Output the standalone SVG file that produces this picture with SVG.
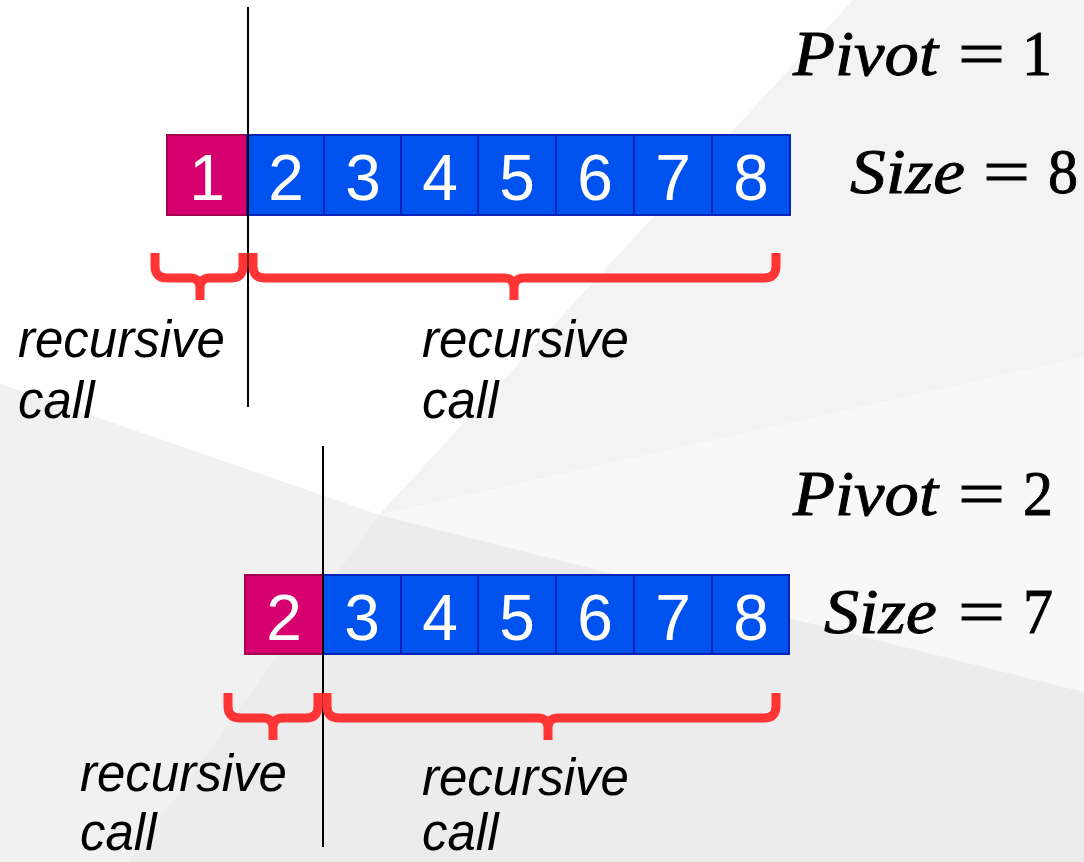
<svg xmlns="http://www.w3.org/2000/svg" width="1084" height="862" viewBox="0 0 1084 862">
<style>
.pv{fill:#d6006e;stroke:#a3004f;stroke-width:2}
.bl{fill:#0052ef;stroke:#0a24b8;stroke-width:2}
.dg{font-family:"Liberation Sans",Arial,sans-serif;font-size:64px;fill:#fff;text-anchor:middle}
.lb{font-family:"Liberation Sans",Arial,sans-serif;font-size:51px;font-style:italic;fill:#000}
.mi{font-family:"Liberation Serif","Times New Roman",serif;font-size:64px;font-style:italic;fill:#000;stroke:#000;stroke-width:0.9}
.mr{font-family:"Liberation Serif","Times New Roman",serif;font-size:64px;fill:#000;stroke:#000;stroke-width:0.9}
.br{fill:none;stroke:#ff3535;stroke-width:9}
.sep{stroke:#000;stroke-width:2}
</style>
<g id="background">
<rect x="0" y="0" width="1084" height="862" fill="#ffffff"/>
<polygon points="853,0 1084,0 1084,357 379,515" fill="#f3f3f3"/>
<polygon points="379,515 1084,357 1084,692" fill="#f8f8f8"/>
<polygon points="0,384 379,515 1084,692 1084,862 0,862" fill="#ececec"/>
<polygon points="0,384 379,515 129,862 0,862" fill="#f1f1f1"/>
</g>
<g id="array1">
<rect class="pv" x="167" y="135" width="80" height="80"/>
<rect class="bl" x="247" y="135" width="77" height="80"/>
<rect class="bl" x="324" y="135" width="77" height="80"/>
<rect class="bl" x="401" y="135" width="77" height="80"/>
<rect class="bl" x="478" y="135" width="78" height="80"/>
<rect class="bl" x="556" y="135" width="78" height="80"/>
<rect class="bl" x="634" y="135" width="78" height="80"/>
<rect class="bl" x="712" y="135" width="78" height="80"/>
<text class="dg" x="207" y="200">1</text>
<text class="dg" x="286" y="200">2</text>
<text class="dg" x="363" y="200">3</text>
<text class="dg" x="440" y="200">4</text>
<text class="dg" x="517" y="200">5</text>
<text class="dg" x="595" y="200">6</text>
<text class="dg" x="673" y="200">7</text>
<text class="dg" x="751" y="200">8</text>
</g>
<g id="array2">
<rect class="pv" x="245" y="575" width="78" height="79"/>
<rect class="bl" x="323" y="575" width="78" height="79"/>
<rect class="bl" x="401" y="575" width="77" height="79"/>
<rect class="bl" x="478" y="575" width="78" height="79"/>
<rect class="bl" x="556" y="575" width="78" height="79"/>
<rect class="bl" x="634" y="575" width="78" height="79"/>
<rect class="bl" x="712" y="575" width="77" height="79"/>
<text class="dg" x="284" y="640">2</text>
<text class="dg" x="362" y="640">3</text>
<text class="dg" x="440" y="640">4</text>
<text class="dg" x="517" y="640">5</text>
<text class="dg" x="595" y="640">6</text>
<text class="dg" x="673" y="640">7</text>
<text class="dg" x="751" y="640">8</text>
</g>
<g id="connectors">
<line class="sep" x1="248" y1="7" x2="248" y2="407"/>
<line class="sep" x1="323" y1="446" x2="323" y2="847"/>
<path class="br" d="M155,253 V266 Q155,278 167,278 H190 Q200,278 200,288 V300 M200,288 Q200,278 210,278 H231 Q243,278 243,266 V253"/>
<path class="br" d="M253,253 V266 Q253,278 265,278 H504 Q514,278 514,288 V300 M514,288 Q514,278 524,278 H764 Q776,278 776,266 V253"/>
<path class="br" d="M228,693 V706 Q228,718 240,718 H263 Q273,718 273,728 V740 M273,728 Q273,718 283,718 H306 Q318,718 318,706 V693"/>
<path class="br" d="M327,693 V706 Q327,718 339,718 H538 Q548,718 548,728 V740 M548,728 Q548,718 558,718 H764 Q776,718 776,706 V693"/>
</g>
<g id="labels">
<text class="lb" x="18" y="357">recursive</text>
<text class="lb" x="18" y="418">call</text>
<text class="lb" x="422" y="357">recursive</text>
<text class="lb" x="422" y="418">call</text>
<text class="lb" x="80" y="791">recursive</text>
<text class="lb" x="80" y="850">call</text>
<text class="lb" x="422" y="795">recursive</text>
<text class="lb" x="422" y="850">call</text>
</g>
<g id="math1">
<text class="mi" x="793" y="75" textLength="145" lengthAdjust="spacingAndGlyphs">Pivot</text>
<text class="mr" x="958" y="75" textLength="47" lengthAdjust="spacingAndGlyphs">=</text>
<text class="mr" x="1022" y="75" textLength="30" lengthAdjust="spacingAndGlyphs">1</text>
<text class="mi" x="850" y="193" textLength="115" lengthAdjust="spacingAndGlyphs">Size</text>
<text class="mr" x="983" y="193" textLength="47" lengthAdjust="spacingAndGlyphs">=</text>
<text class="mr" x="1048" y="193" textLength="30" lengthAdjust="spacingAndGlyphs">8</text>
</g>
<g id="math2">
<text class="mi" x="793" y="515" textLength="145" lengthAdjust="spacingAndGlyphs">Pivot</text>
<text class="mr" x="958" y="515" textLength="47" lengthAdjust="spacingAndGlyphs">=</text>
<text class="mr" x="1023" y="515" textLength="30" lengthAdjust="spacingAndGlyphs">2</text>
<text class="mi" x="824" y="633" textLength="113" lengthAdjust="spacingAndGlyphs">Size</text>
<text class="mr" x="958" y="633" textLength="47" lengthAdjust="spacingAndGlyphs">=</text>
<text class="mr" x="1023" y="633" textLength="30" lengthAdjust="spacingAndGlyphs">7</text>
</g>
</svg>
